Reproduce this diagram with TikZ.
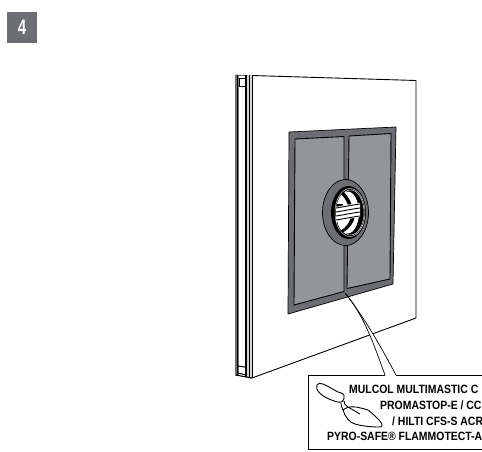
\documentclass[tikz,border=0pt]{standalone}
\usepackage{fontspec}
\newfontfamily\lab[FakeStretch=0.87]{Liberation Sans}
\newfontfamily\numfont[FakeStretch=0.72]{Liberation Sans}
\definecolor{dk}{HTML}{6D6E71}
\definecolor{md}{HTML}{939598}
\definecolor{lt}{HTML}{D1D3D4}
\tikzset{
  edge/.style={draw=black,line width=0.9pt,line join=round},
  thin edge/.style={draw=black,line width=0.7pt,line join=round},
  label text/.style={font=\lab\bfseries\fontsize{12}{14}\selectfont,anchor=base west,inner sep=0pt,text=black},
}
\begin{document}
\begin{tikzpicture}[x=1pt,y=-1pt]
\useasboundingbox (0,0) rectangle (482,451);
\clip (0,0) rectangle (482,451);
% step badge
\node[fill=dk,minimum width=30.5pt,minimum height=31pt,inner sep=0pt,text=white,font=\numfont\bfseries\fontsize{21}{21}\selectfont] (badge) at (22.2,27.5) {4};
% wall face
\fill[white] (235,75) -- (416,80) -- (416,318) -- (252,378) -- (237,375) -- cycle;
\draw[edge] (252,75.5) -- (416,80.5) -- (416,318) -- (252,378) -- (237,375);
\draw[thin edge,draw=dk] (235,75) -- (252,75.5);
% edge strip
\fill[dk] (235,75) rectangle (252,376);
\fill[black] (236.5,75) rectangle (238,375);
\fill[white] (239,76) rectangle (245,376);
\fill[black] (245,75) rectangle (247,377);
\fill[lt] (247,75) rectangle (249,377);
\fill[black] (249,75) rectangle (250,378);
\fill[lt] (250,75) rectangle (251.5,378);
\draw[line width=1pt] (252,76) -- (252,378);
\draw[line width=1pt] (239,86.5) -- (245,86.5);
\draw[line width=0.8pt] (239,78) rectangle (245,86.5);
\draw[line width=1pt] (238,366) -- (245,367) (238,373) -- (246,375);
\draw[line width=1pt] (236,375) -- (252,378);
% sealed panel
\fill[dk] (289,132) -- (396,127) -- (393,284) -- (288,314) -- cycle;
\draw[thin edge] (289,132) -- (396,127) -- (393,284) -- (288,314) -- cycle;
\fill[md,edge] (295,139) -- (344,136.5) -- (344,291.5) -- (294,305) -- cycle;
\fill[md,edge] (349,136) -- (391,133.5) -- (390,279) -- (347,288.5) -- cycle;
% opening
\fill[dk,thin edge] (345.5,212.5) ellipse [x radius=23,y radius=33];
\fill[black] (348.5,212.5) ellipse [x radius=17.5,y radius=26.5];
\draw[line width=0.5pt,lt] (350,212.5) ellipse [x radius=15,y radius=24];
\draw[line width=0.5pt,lt] (350.5,212.5) ellipse [x radius=13.5,y radius=22.5];
\fill[white] (347.5,212.5) ellipse [x radius=11.5,y radius=21];
\fill[black] (344,192) .. controls (351,200) and (354,208) .. (353,216) -- (349,216) .. controls (350,208) and (347,200) .. (341,194) -- cycle;
\fill[black] (351,216) .. controls (350,222) and (346,228) .. (340,231) -- (343,232.5) .. controls (349,229) and (354,223) .. (355,216) -- cycle;
\fill[black] (337,204) rectangle (343,206.5);
\fill[white] (336,207) .. controls (344,205) and (352,204) .. (360,203) -- (360,217) .. controls (352,218) and (344,220) .. (336,222) -- cycle;
\foreach \yy in {208,212,216,220}{
  \draw[line width=0.9pt] (336,\yy) .. controls (343,\yy-1) and (352,\yy-3) .. (360,\yy-4);
}
% leader
\coordinate (tipa) at (345,293);
\coordinate (ba) at (385,375);
\coordinate (bb) at (396,375);
\fill[white] (tipa) .. controls (364,315) and (374,345) .. (ba) -- (bb) .. controls (380,345) and (364,317) .. (tipa) -- cycle;
% callout box
\draw[edge,fill=white] (490,375) -- (396,375) (385,375) -- (308,375) -- (308,449) -- (490,449);
\draw[thin edge] (tipa) .. controls (364,315) and (374,345) .. (ba);
\draw[thin edge] (tipa) .. controls (364,317) and (380,345) .. (bb);
% trowel
\draw[edge,fill=white] (317,385) .. controls (318,383) and (320,383) .. (323,384) .. controls (328,386) and (334,390) .. (338,392) .. controls (342,393) and (345,394) .. (344,398) .. controls (344,401) and (341,403) .. (338,402) .. controls (333,401) and (329,399) .. (325,397) .. controls (320,394) and (315,390) .. (317,385) -- cycle;
\draw[edge] (341,403) .. controls (341,406) and (342,408) .. (343,410) (344,401) .. controls (344,403) and (345,406) .. (348,407);
\draw[edge,fill=white] (343,410) .. controls (345,408) and (350,406) .. (356,407) .. controls (361,408) and (365,409) .. (368,410) .. controls (373,414) and (379,419) .. (382,424) .. controls (383,426) and (381,428) .. (379,427) .. controls (371,427) and (362,426) .. (355,424) .. controls (350,423) and (345,417) .. (343,410) -- cycle;
\draw[edge] (348,407) -- (360,414);
% label
\node[label text] (l1) at (349,393.5) {MULCOL MULTIMASTIC C};
\node[label text] (l2) at (380,409.5) {PROMASTOP-E / CC};
\node[label text] (l3) at (392,425) {/ HILTI CFS-S ACR};
\node[label text] (l4) at (327,440.5) {PYRO-SAFE® FLAMMOTECT-A};
\end{tikzpicture}
\end{document}
